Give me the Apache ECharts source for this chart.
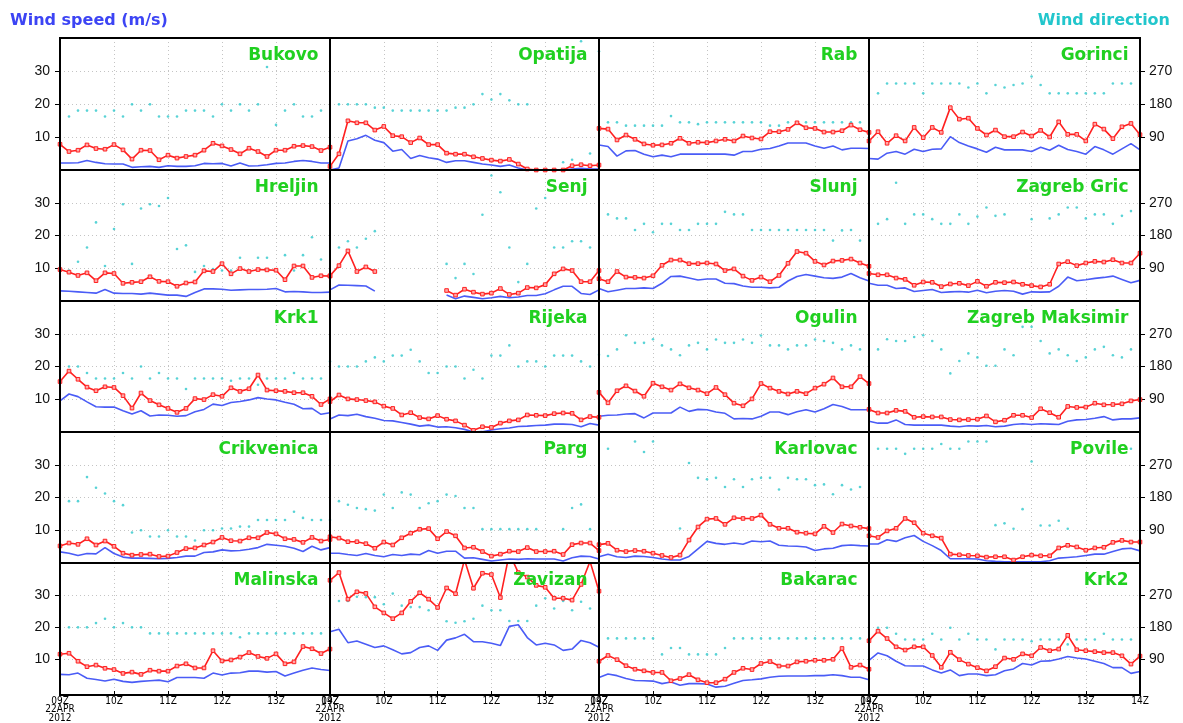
<!DOCTYPE html>
<html>
<head>
<meta charset="utf-8">
<script src="https://cdn.jsdelivr.net/npm/echarts@6/dist/echarts.min.js"></script>
<style>
  html, body { margin: 0; padding: 0; background: #fff; }
  #chart { width: 1183px; height: 723px; }
</style>
</head>
<body>
<div id="chart"></div>
<script>
// 10-minute time slots, 09Z to 14Z, 22 April 2012
const timeSlots = ['09:00','09:10','09:20','09:30','09:40','09:50','10:00','10:10','10:20','10:30','10:40','10:50',
  '11:00','11:10','11:20','11:30','11:40','11:50','12:00','12:10','12:20','12:30','12:40','12:50',
  '13:00','13:10','13:20','13:30','13:40','13:50','14:00'];
const hourLabels = ['09Z\n22APR\n2012', '10Z', '11Z', '12Z', '13Z', '14Z'];
const speedTicks = [10, 20, 30];
const dirTicks = [90, 180, 270];

// gust (m/s), mean speed (m/s), direction (deg); null = no observation
const bukovoGust = [7.8,5.6,6.0,7.6,6.5,6.3,7.7,6.1,3.3,6.0,5.9,3.1,4.5,3.6,4.1,4.5,6.0,8.1,7.3,6.2,4.9,6.6,5.6,4.1,6.0,6.0,7.2,7.4,7.1,5.9,6.9];
const bukovoSpeed = [2.1,2.1,2.2,2.9,2.3,1.9,1.8,1.8,0.8,1.0,1.1,0.8,1.3,1.1,1.1,1.3,2.0,1.9,2.0,1.2,2.1,1.2,1.3,1.6,2.0,2.1,2.6,2.9,2.6,2.1,2.1];
const bukovoDir = [null,146,162,162,162,146,162,146,179,162,179,146,146,146,162,162,162,146,179,162,179,162,179,281,123,162,179,146,146,162,null];

const opatijaGust = [1.1,4.9,14.9,14.3,14.3,12.1,13.2,10.4,10.1,8.3,9.7,7.7,7.7,5.1,4.8,4.8,4.0,3.5,3.0,2.7,3.2,1.8,0.3,0,0,0,0,1.3,1.6,1.3,1.5];
const opatijaSpeed = [0,0.6,8.8,9.5,10.5,9.0,8.3,5.7,6.2,3.5,4.4,3.7,3.3,2.3,2.8,2.8,2.3,1.8,1.5,1.1,1.5,0.6,0,0,0,0,0,0.3,0.5,0.3,0.3];
const opatijaDir = [null,179,179,179,179,170,170,162,162,162,162,162,162,162,170,170,179,207,192,207,190,179,179,null,null,null,21,28,351,45,null];

const rabGust = [12.6,12.4,9.1,10.6,9.3,7.9,7.5,7.6,8.1,9.6,8.1,8.4,8.3,8.8,9.3,8.8,10.3,9.7,9.4,11.6,11.6,12.3,14.3,12.8,12.6,11.5,11.5,11.9,13.6,12.2,11.4];
const rabSpeed = [7.6,7.1,4.2,5.8,5.9,4.8,4.0,4.5,4.0,4.8,4.8,4.8,4.8,4.8,4.8,4.5,5.6,5.6,6.3,6.5,7.3,8.2,8.2,8.2,7.3,6.6,7.3,6.1,6.6,6.6,6.5];
const rabDir = [324,130,130,121,121,121,121,121,147,130,130,125,130,130,130,130,130,130,130,121,121,130,130,130,130,130,130,130,130,130,null];

const gorinciGust = [8.8,11.6,8.1,10.4,8.8,12.9,9.8,12.9,11.4,18.9,15.4,15.7,12.6,10.6,12.1,10.1,10.1,11.5,10.3,12.0,10.0,14.6,10.8,10.8,8.8,13.9,12.4,9.5,13.1,14.1,10.7];
const gorinciSpeed = [3.5,3.3,5.1,5.6,4.8,6.3,5.6,6.3,6.4,10.1,8.3,7.3,6.4,5.4,6.9,6.1,6.1,6.1,5.6,6.9,6.0,7.5,6.2,5.6,4.8,7.1,6.1,4.8,6.4,8.0,6.1];
const gorinciDir = [null,209,236,236,236,236,209,236,236,236,236,225,236,209,232,225,232,236,255,232,209,209,209,209,209,209,209,236,236,236,null];

const hreljinGust = [9.6,8.8,7.8,8.6,6.2,8.6,8.4,5.4,5.7,5.9,7.4,6.0,5.9,4.5,5.5,5.8,9.2,9.0,11.4,8.3,9.9,9.0,9.6,9.5,9.4,6.5,10.7,10.7,7.2,7.7,7.6];
const hreljinSpeed = [3.1,3.0,2.8,2.6,2.4,3.5,2.4,2.3,2.3,2.1,2.4,2.1,1.8,1.8,1.4,2.6,3.7,3.7,3.6,3.3,3.4,3.5,3.5,3.6,3.8,2.8,2.9,2.8,2.6,2.6,2.7];
const hreljinDir = [null,84,108,147,216,96,198,266,102,254,266,261,283,143,153,80,96,88,84,84,119,84,119,119,84,126,84,126,175,114,null];

const senjGust = [7.7,10.8,15.3,9.0,10.4,9.0,null,null,null,null,null,null,null,3.2,1.8,3.6,2.7,2.1,2.4,3.8,2.0,2.4,4.1,4.0,5.0,8.3,9.8,9.3,5.9,5.9,9.3];
const senjSpeed = [3.4,4.9,4.8,4.7,4.6,3.0,null,null,null,null,null,null,null,1.8,0.7,1.5,1.1,0.7,1.0,1.4,1.0,1.2,1.7,1.7,2.2,3.4,4.5,4.5,2.3,2.0,3.4];
const senjDir = [null,147,164,147,171,192,null,null,null,null,null,null,null,102,63,102,74,237,345,299,147,52,102,254,283,147,147,164,164,147,null];

const slunjGust = [6.8,5.9,9.0,7.3,7.2,7.0,7.7,10.9,12.5,12.5,11.4,11.4,11.6,11.3,9.3,9.8,7.6,6.3,7.3,5.9,7.8,11.5,15.1,14.6,12.1,11.0,12.2,12.4,12.8,11.6,10.6];
const slunjSpeed = [3.8,2.8,3.3,3.8,3.8,4.0,3.8,5.4,7.5,7.6,7.0,6.4,6.7,6.7,5.4,5.3,4.6,4.2,4.2,4.0,4.2,6.1,7.5,8.1,7.6,7.1,6.9,7.3,8.4,7.1,6.1];
const slunjDir = [null,238,227,227,195,212,189,212,212,195,195,212,212,212,245,238,238,195,195,195,195,195,195,195,195,195,166,194,195,166,null];

const gricGust = [8.4,8.0,8.0,7.0,6.6,4.8,5.8,5.7,4.4,5.2,5.4,4.7,6.0,4.5,5.7,5.6,5.8,5.1,4.7,4.3,5.1,11.3,12.0,10.8,11.6,12.1,11.9,12.6,11.6,11.6,14.6];
const gricSpeed = [5.4,4.8,4.8,3.8,4.0,2.9,3.2,3.5,2.6,2.8,2.9,2.7,3.3,2.5,3.0,3.2,3.0,2.1,2.8,2.7,2.8,4.5,7.3,6.2,6.5,6.9,7.2,7.6,6.6,5.6,6.3];
const gricDir = [null,212,225,325,212,238,238,225,212,212,238,212,232,257,234,238,null,325,225,325,227,238,257,257,227,238,238,212,234,247,null];

const krk1Gust = [15.4,18.6,16.1,13.7,12.6,13.8,13.6,11.1,7.3,11.9,9.6,8.3,7.2,6.0,7.2,10.2,9.9,11.4,10.9,13.5,12.4,13.2,17.4,12.8,12.6,12.4,12.0,12.0,10.9,8.4,10.1];
const krk1Speed = [9.5,11.6,10.8,9.2,7.7,7.6,7.6,6.5,5.5,6.5,4.9,5.2,5.1,4.8,5.0,6.2,6.9,8.5,8.1,9.0,9.3,9.8,10.5,10.1,9.8,9.1,8.5,7.1,7.2,5.4,5.9];
const krk1Dir = [null,180,180,162,147,147,147,162,147,180,147,162,147,147,118,147,147,147,147,141,147,147,130,147,147,147,162,147,147,147,null];

const rijekaGust = [9.3,11.3,10.1,9.9,9.6,9.2,7.9,7.2,5.2,5.9,4.4,4.0,5.0,3.9,3.4,2.1,0.5,1.6,1.4,2.7,3.4,3.7,5.2,5.1,5.0,5.6,5.8,5.7,3.7,4.7,4.5];
const rijekaSpeed = [4.0,5.2,5.0,5.4,4.7,4.2,3.5,3.4,2.9,2.4,1.8,2.1,1.5,1.6,1.3,0.8,0,0.1,0.6,1.0,1.2,1.7,1.8,2.0,2.1,2.4,2.4,2.3,1.6,2.6,2.1];
const rijekaDir = [194,180,180,180,194,205,194,210,210,226,194,162,162,180,180,147,171,147,210,210,238,180,194,194,180,210,210,210,194,180,null];

const ogulinGust = [12.1,8.9,12.6,14.1,12.5,10.9,14.9,13.8,12.8,14.7,13.5,12.8,11.7,13.6,11.4,8.8,8.0,10.1,14.8,13.4,12.4,11.6,12.4,11.7,13.4,14.6,16.5,13.8,13.8,16.9,14.8];
const ogulinSpeed = [4.8,5.1,5.2,5.5,5.6,4.3,5.8,5.8,5.8,7.6,6.3,6.9,6.8,6.1,5.7,4.0,4.1,4.0,4.8,6.1,6.1,5.3,6.2,6.8,6.1,7.1,8.4,7.8,6.8,6.8,6.8];
const ogulinDir = [212,209,227,266,245,245,255,238,227,211,238,245,227,254,245,245,254,245,265,238,238,227,238,238,254,250,245,227,238,227,null];

const maksimirGust = [6.9,5.8,5.8,6.6,6.3,4.5,4.7,4.6,4.6,3.8,3.7,3.8,3.9,4.9,3.1,3.6,5.1,5.1,4.4,7.1,5.9,4.5,7.8,7.5,7.6,8.8,8.3,8.4,8.6,9.5,9.9];
const maksimirSpeed = [3.3,2.7,2.7,3.7,2.3,2.1,2.1,2.1,2.1,1.8,1.6,1.9,1.8,2.0,1.6,1.8,2.3,2.5,2.3,2.5,2.4,2.3,3.3,3.7,3.8,4.2,4.7,3.7,4.0,4.0,4.3];
const maksimirDir = [null,227,255,250,250,261,266,250,227,161,195,216,205,182,182,227,211,289,289,250,216,227,211,195,205,227,234,211,205,227,null];

const crikvenicaGust = [5.2,6.1,5.7,7.4,5.5,6.7,5.1,3.0,2.4,2.6,2.7,2.0,2.1,3.2,4.4,4.6,5.5,6.4,7.8,6.8,6.7,7.7,7.7,9.3,8.9,7.4,7.2,6.3,7.8,6.7,7.2];
const crikvenicaSpeed = [3.4,3.0,2.3,2.9,2.8,4.7,2.9,1.8,1.5,1.5,1.4,1.3,1.4,1.7,2.1,2.1,3.2,3.4,4.0,3.7,3.8,4.2,4.7,5.7,5.4,5.1,4.5,3.5,5.1,4.0,4.7];
const crikvenicaDir = [null,170,170,236,207,191,170,159,84,90,73,73,90,73,73,62,90,90,95,95,100,100,118,118,118,118,141,124,118,118,118];

const pargGust = [8.0,7.6,6.5,6.5,5.9,4.5,6.4,5.5,7.7,9.1,10.3,10.5,7.4,9.6,8.3,4.6,4.8,3.5,2.1,2.7,3.6,3.5,4.7,3.5,3.5,3.6,2.6,5.6,6.1,6.1,3.8];
const pargSpeed = [3.0,3.0,2.6,2.3,2.9,2.3,1.9,2.6,2.3,2.7,2.5,3.8,3.0,3.6,3.6,1.5,1.6,1.1,0.6,0.9,1.2,1.1,1.3,1.2,1.2,1.2,0.6,1.6,2.1,2.0,1.2];
const pargDir = [null,170,160,151,148,144,188,151,194,188,151,164,170,188,184,151,151,93,93,93,93,93,93,93,null,null,93,151,161,93,null];

const karlovacGust = [5.6,6.0,3.9,3.5,3.8,3.6,3.0,2.3,1.7,2.4,7.0,11.0,13.4,13.6,11.8,13.8,13.6,13.6,14.6,11.8,10.6,10.6,9.4,9.1,8.9,11.2,9.3,11.9,11.3,10.9,10.5];
const karlovacSpeed = [1.9,2.7,1.9,1.7,2.1,2.0,1.7,1.2,0.9,0.9,2.0,4.3,6.6,6.0,5.7,6.1,5.7,6.7,6.5,6.7,5.4,5.2,5.1,4.9,3.8,4.3,4.5,5.3,5.5,5.3,5.2];
const karlovacDir = [null,314,null,null,334,305,334,null,null,95,275,234,230,234,209,230,209,230,234,234,202,234,230,230,214,216,189,214,202,209,null];

const povileGust = [8.3,7.8,9.8,10.6,13.6,12.3,9.1,8.3,7.6,2.7,2.5,2.3,2.2,1.8,1.9,1.9,0.9,1.9,2.4,2.2,2.2,4.6,5.4,4.9,3.9,4.6,4.8,6.3,6.9,6.4,6.4];
const povileSpeed = [5.8,5.8,7.1,6.6,7.7,8.4,6.6,5.3,3.8,1.3,1.3,1.3,1.2,0.7,0.5,0.4,0.4,0.4,0.4,0.4,0.7,1.5,1.7,1.9,2.3,2.7,2.7,3.5,4.3,4.5,3.7];
const povileDir = [null,314,314,314,300,314,314,314,327,314,314,334,334,334,104,109,94,148,279,103,103,116,94,null,null,null,null,null,null,314,null];

const malinskaGust = [11.5,11.8,9.3,7.6,8.1,7.1,6.7,5.5,5.9,5.2,6.5,6.2,6.2,7.8,8.5,7.2,7.2,12.6,9.4,9.7,10.6,12.0,10.8,10.2,11.6,8.5,9.1,13.9,13.2,11.7,13.1];
const malinskaSpeed = [5.2,5.1,5.6,4.0,3.6,3.1,3.7,3.0,2.7,3.0,3.2,3.4,2.9,4.2,4.2,4.2,4.0,5.6,5.0,5.6,5.7,6.2,6.2,5.9,6.1,4.7,5.6,6.5,7.2,6.7,6.4];
const malinskaDir = [null,179,179,179,191,203,179,191,179,179,162,162,162,162,162,162,162,162,162,162,151,162,162,162,162,162,162,162,162,162,null];

const zavizanGust = [34.6,37.0,28.7,31.0,30.5,26.3,24.4,22.6,24.4,28.0,30.7,28.7,26.1,32.2,30.4,41.0,32.1,36.8,36.4,29.2,43.0,37.0,35.6,33.0,32.4,29.0,29.0,28.4,33.3,40.5,31.2];
const zavizanSpeed = [18.5,19.3,15.1,15.6,14.6,13.6,14.1,12.9,11.6,12.0,13.6,14.1,12.7,15.9,16.6,17.7,15.4,15.4,14.9,14.2,20.2,20.7,16.7,14.4,14.9,14.4,12.7,13.1,15.8,15.1,13.7];
const zavizanDir = [null,253,253,265,264,264,244,274,240,236,236,227,232,196,192,196,203,240,227,227,197,197,197,240,261,232,253,227,251,232,null];

const bakaracGust = [9.3,11.1,9.8,7.9,6.8,6.3,5.8,5.8,3.2,3.9,5.1,3.5,2.6,2.6,3.7,5.8,7.1,6.7,8.6,9.2,7.8,7.8,9.1,9.3,9.6,9.6,9.9,13.3,7.4,8.1,6.8];
const bakaracSpeed = [4.2,5.3,4.8,3.9,3.3,3.2,3.1,2.3,2.8,1.8,2.3,2.3,2.2,1.2,1.5,2.4,3.3,3.5,3.8,4.3,4.6,4.7,4.7,4.7,4.8,4.8,5.1,4.8,4.3,4.3,3.5];
const bakaracDir = [null,148,148,148,148,148,148,103,121,121,103,103,103,103,121,148,148,148,148,148,148,148,148,148,148,148,148,148,148,148,null];

const krk2Gust = [15.7,18.7,16.4,13.8,12.8,13.8,13.8,11.1,7.4,12.1,9.8,8.4,7.3,6.3,7.6,10.3,9.9,11.6,11.0,13.6,12.6,13.1,17.4,12.9,12.6,12.3,12.0,12.0,11.0,8.4,10.9];
const krk2Speed = [9.6,11.9,11.0,9.3,7.9,7.8,7.8,6.6,5.6,6.6,4.8,5.3,5.3,4.8,5.1,6.3,6.9,8.6,8.1,9.3,9.4,10.0,10.8,10.3,10.0,9.3,8.6,7.3,7.3,5.5,6.1];
const krk2Dir = [null,178,178,161,145,145,145,161,145,178,145,161,145,145,117,145,145,145,140,145,145,145,131,145,145,145,161,145,145,145,null];

// stations in reading order, four per row
const stations = [
  { name: 'Bukovo', gust: bukovoGust, speed: bukovoSpeed, dir: bukovoDir },
  { name: 'Opatija', gust: opatijaGust, speed: opatijaSpeed, dir: opatijaDir },
  { name: 'Rab', gust: rabGust, speed: rabSpeed, dir: rabDir },
  { name: 'Gorinci', gust: gorinciGust, speed: gorinciSpeed, dir: gorinciDir },
  { name: 'Hreljin', gust: hreljinGust, speed: hreljinSpeed, dir: hreljinDir },
  { name: 'Senj', gust: senjGust, speed: senjSpeed, dir: senjDir },
  { name: 'Slunj', gust: slunjGust, speed: slunjSpeed, dir: slunjDir },
  { name: 'Zagreb Gric', gust: gricGust, speed: gricSpeed, dir: gricDir },
  { name: 'Krk1', gust: krk1Gust, speed: krk1Speed, dir: krk1Dir },
  { name: 'Rijeka', gust: rijekaGust, speed: rijekaSpeed, dir: rijekaDir },
  { name: 'Ogulin', gust: ogulinGust, speed: ogulinSpeed, dir: ogulinDir },
  { name: 'Zagreb Maksimir', gust: maksimirGust, speed: maksimirSpeed, dir: maksimirDir },
  { name: 'Crikvenica', gust: crikvenicaGust, speed: crikvenicaSpeed, dir: crikvenicaDir },
  { name: 'Parg', gust: pargGust, speed: pargSpeed, dir: pargDir },
  { name: 'Karlovac', gust: karlovacGust, speed: karlovacSpeed, dir: karlovacDir },
  { name: 'Povile', gust: povileGust, speed: povileSpeed, dir: povileDir },
  { name: 'Malinska', gust: malinskaGust, speed: malinskaSpeed, dir: malinskaDir },
  { name: 'Zavizan', gust: zavizanGust, speed: zavizanSpeed, dir: zavizanDir },
  { name: 'Bakarac', gust: bakaracGust, speed: bakaracSpeed, dir: bakaracDir },
  { name: 'Krk2', gust: krk2Gust, speed: krk2Speed, dir: krk2Dir }
];

// panel layout
const W = 1183;
const colLeft = [60, 330, 599, 869];
const colWidth = [270, 269, 270, 271];
const rowTop = [38, 170, 301, 432, 563];
const rowHeight = [132, 131, 131, 131, 132];
const nCols = 4, nRows = 5;

const gap = v => (v === null ? '-' : v);
const gridLine = { type: [1, 3], color: '#c4c4c4', width: 1 };
const nameFont = 'DejaVu Sans';
const tickFont = 'Liberation Sans, Arial, sans-serif';
const timeFont = '"Liberation Sans Narrow", "DejaVu Sans Condensed", "Liberation Sans", sans-serif';

const grids = [], xAxes = [], yAxes = [], series = [], graphics = [];
const titles = [
  { text: 'Wind speed (m/s)', left: 10, top: 13, padding: 0,
    textStyle: { color: '#3c44f4', fontFamily: nameFont, fontWeight: 'bold', fontSize: 16, lineHeight: 16 } },
  { text: 'Wind direction', right: 13, top: 13, padding: 0,
    textStyle: { color: '#22c6cc', fontFamily: nameFont, fontWeight: 'bold', fontSize: 16, lineHeight: 16 } }
];

stations.forEach((st, i) => {
  const r = Math.floor(i / nCols), c = i % nCols;
  const left = colLeft[c], top = rowTop[r], width = colWidth[c], height = rowHeight[r];
  const isBottom = r === nRows - 1;

  grids.push({ left, top, width, height, show: true, backgroundColor: '#fff', borderWidth: 0, containLabel: false });

  xAxes.push({
    type: 'category', gridIndex: i, data: timeSlots, boundaryGap: false,
    axisLine: { show: false },
    axisTick: { show: isBottom, interval: 5, length: 3, lineStyle: { color: '#000', width: 1 } },
    axisLabel: {
      show: isBottom, interval: 5, margin: 6,
      formatter: v => hourLabels[timeSlots.indexOf(v) / 6],
      fontFamily: timeFont, fontSize: 10, lineHeight: 8.4, color: '#000'
    },
    splitLine: { show: true, interval: 5, lineStyle: gridLine }
  });

  yAxes.push({
    type: 'value', gridIndex: i, min: 0, max: 40, interval: 10, position: 'left',
    axisLine: { show: false },
    axisTick: { show: c === 0, length: 5, customValues: speedTicks, lineStyle: { color: '#000', width: 1 } },
    axisLabel: { show: c === 0, customValues: speedTicks, margin: 10, fontFamily: tickFont, fontSize: 14, color: '#111' },
    splitLine: { show: true, lineStyle: gridLine }
  });
  yAxes.push({
    type: 'value', gridIndex: i, min: 0, max: 360, interval: 90, position: 'right',
    axisLine: { show: false },
    axisTick: { show: c === nCols - 1, length: 5, customValues: dirTicks, lineStyle: { color: '#000', width: 1 } },
    axisLabel: { show: c === nCols - 1, customValues: dirTicks, margin: 9, fontFamily: tickFont, fontSize: 14, color: '#111' },
    splitLine: { show: false }
  });

  series.push({
    type: 'scatter', xAxisIndex: i, yAxisIndex: 2 * i + 1,
    data: st.dir.map(gap), symbol: 'circle', symbolSize: 2.6,
    itemStyle: { color: '#2ec8cc' }, z: 2, silent: true
  });
  series.push({
    type: 'line', xAxisIndex: i, yAxisIndex: 2 * i,
    data: st.speed.map(gap), symbol: 'none', clip: true,
    lineStyle: { color: '#4a5cf6', width: 1.6 }, z: 3, silent: true
  });
  series.push({
    type: 'line', xAxisIndex: i, yAxisIndex: 2 * i,
    data: st.gust.map(gap), symbol: 'rect', symbolSize: 3.6, showAllSymbol: true, clip: true,
    lineStyle: { color: '#ff2020', width: 1.6 },
    itemStyle: { color: '#ffa8a8', borderColor: '#ff2020', borderWidth: 1 }, z: 4, silent: true
  });

  titles.push({
    text: st.name, right: W - (left + width - 11.5), top: top + 9, padding: 0,
    textStyle: { color: '#20d020', fontFamily: nameFont, fontWeight: 'bold', fontSize: 17, lineHeight: 17 }
  });

  // panel frame drawn above the plotted lines
  graphics.push({
    type: 'rect', shape: { x: left, y: top, width, height }, z: 100, silent: true,
    style: { fill: null, stroke: '#000', lineWidth: 2 }
  });
});

const chart = echarts.init(document.getElementById('chart'), null, { renderer: 'canvas' });
chart.setOption({
  animation: false,
  backgroundColor: '#fff',
  title: titles,
  grid: grids,
  xAxis: xAxes,
  yAxis: yAxes,
  series: series,
  graphic: graphics
});
</script>
</body>
</html>
